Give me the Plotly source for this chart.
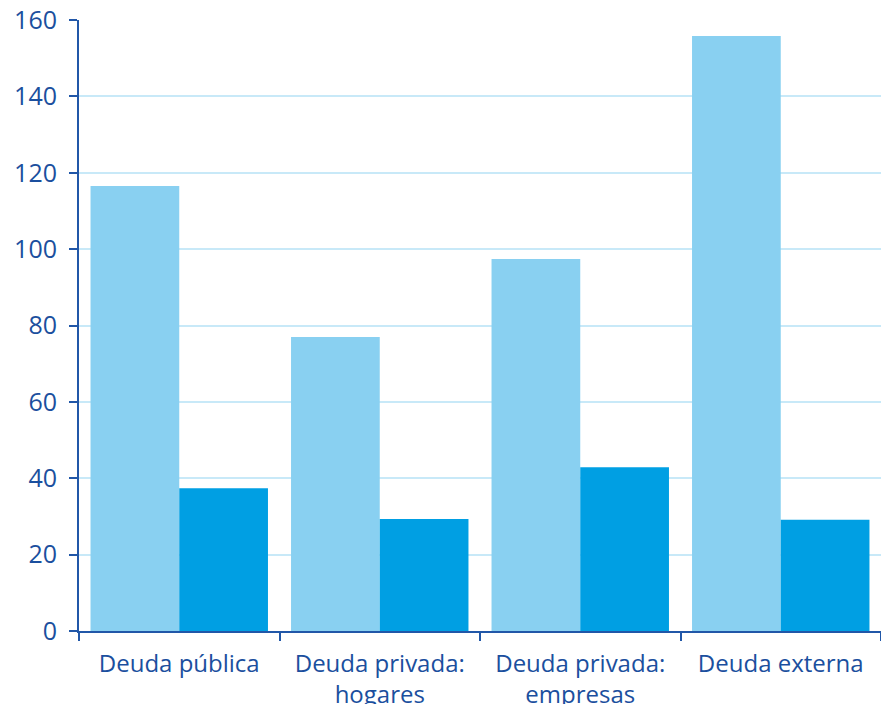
import plotly.graph_objects as go

categories = ["Deuda pública", "Deuda privada:<br>hogares", "Deuda privada:<br>empresas", "Deuda externa"]
serie_a = [116.5, 77.0, 97.4, 155.8]
serie_b = [37.4, 29.3, 42.9, 29.1]
y_ticks = [0, 20, 40, 60, 80, 100, 120, 140, 160]

text_color = "#1b4f9e"
axis_color = "#2157a8"
grid_color = "#c8e9f8"

fig = go.Figure()
fig.add_trace(go.Bar(x=categories, y=serie_a, marker=dict(color="#89d0f1", line=dict(width=0)),
                     showlegend=False))
fig.add_trace(go.Bar(x=categories, y=serie_b, marker=dict(color="#009fe3", line=dict(width=0)),
                     showlegend=False))

fig.update_layout(
    width=881, height=704,
    margin=dict(l=79, r=0, t=20, b=73),
    paper_bgcolor="white", plot_bgcolor="white",
    barmode="group", bargap=0.115, bargroupgap=0,
    font=dict(family="Open Sans", color=text_color),
)
fig.update_xaxes(
    automargin=False,
    showline=True, linecolor=axis_color, linewidth=2,
    ticks="outside", tickson="boundaries", ticklen=8, tickwidth=2, tickcolor=axis_color,
    tickfont=dict(size=24, color=text_color), ticklabelstandoff=10, showgrid=False,
)
fig.update_yaxes(
    automargin=False,
    range=[0, 160], tickvals=y_ticks,
    showline=True, linecolor=axis_color, linewidth=2,
    ticks="outside", ticklen=8, tickwidth=2, tickcolor=axis_color,
    tickfont=dict(size=25, color=text_color), ticklabelstandoff=7,
    showgrid=True, gridcolor=grid_color, gridwidth=1.5, zeroline=False,
)

fig.write_html("out.html")
